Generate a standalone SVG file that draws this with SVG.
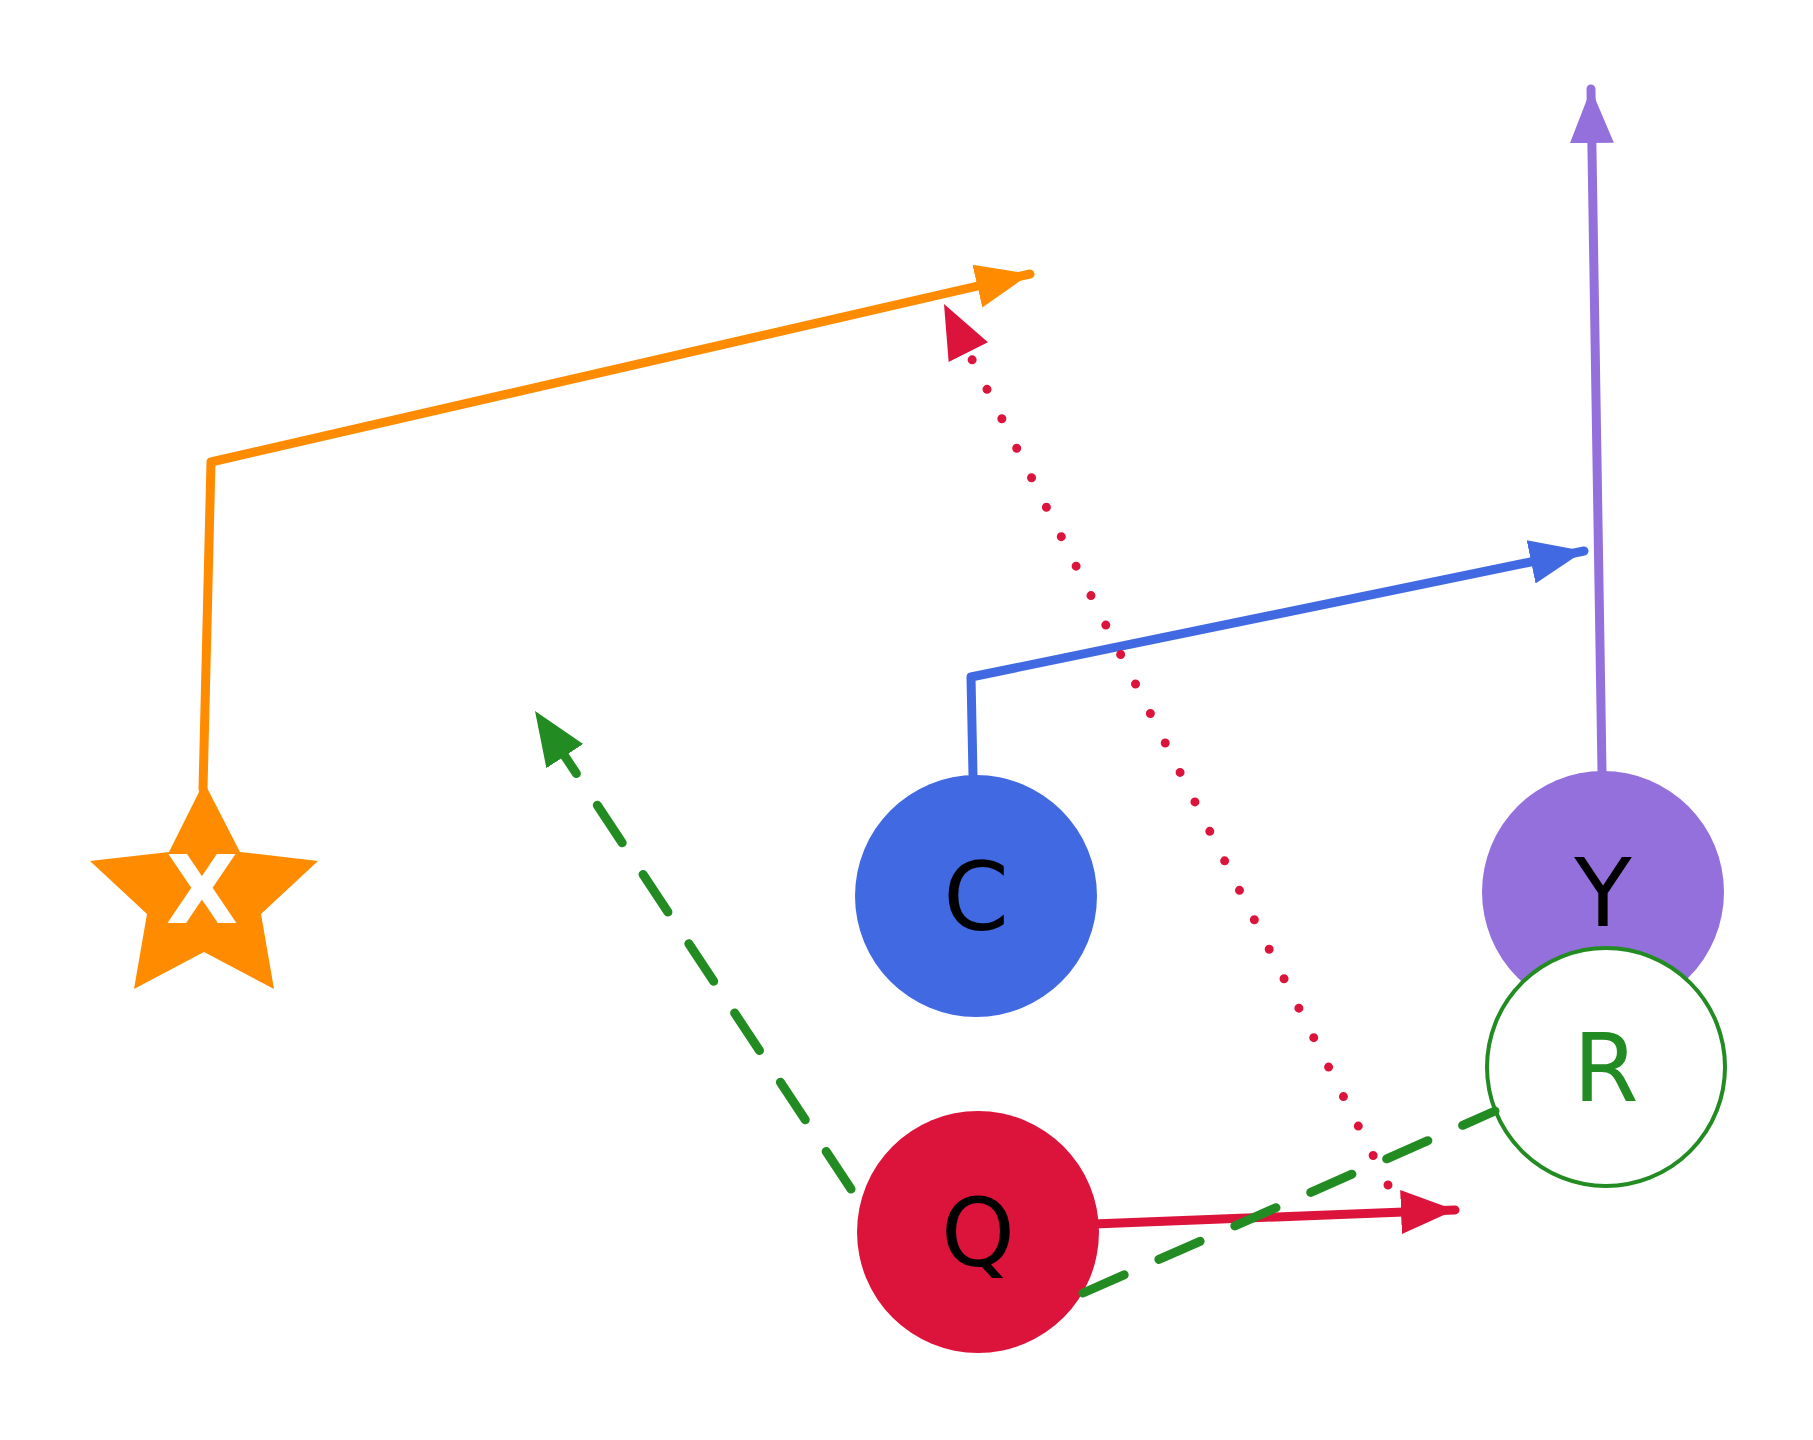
<svg xmlns="http://www.w3.org/2000/svg" width="1813" height="1440" viewBox="0 0 1813 1440">
<style>
.e{fill:none;stroke-width:9;stroke-linecap:round;stroke-linejoin:round}
.lbl{font-family:"DejaVu Sans",sans-serif;font-size:94px;text-anchor:middle;dominant-baseline:central}
</style>
<defs>
<marker id="mo" markerUnits="userSpaceOnUse" markerWidth="60" markerHeight="50" refX="54" refY="22" orient="auto" viewBox="0 0 60 44"><path d="M0,0 L54,22 L0,44 Z" fill="#FF8C00"/></marker>
<marker id="mb" markerUnits="userSpaceOnUse" markerWidth="60" markerHeight="50" refX="54" refY="22" orient="auto" viewBox="0 0 60 44"><path d="M0,0 L54,22 L0,44 Z" fill="#4169E1"/></marker>
<marker id="mp" markerUnits="userSpaceOnUse" markerWidth="60" markerHeight="50" refX="54" refY="22" orient="auto" viewBox="0 0 60 44"><path d="M0,0 L54,22 L0,44 Z" fill="#9370DB"/></marker>
<marker id="mr" markerUnits="userSpaceOnUse" markerWidth="60" markerHeight="50" refX="54" refY="22" orient="auto" viewBox="0 0 60 44"><path d="M0,0 L54,22 L0,44 Z" fill="#DC143C"/></marker>
<marker id="mg" markerUnits="userSpaceOnUse" markerWidth="60" markerHeight="50" refX="54" refY="22" orient="auto" viewBox="0 0 60 44"><path d="M0,0 L54,22 L0,44 Z" fill="#228B22"/></marker>
</defs>
<g id="nodes">
<g id="node-X"><polygon points="204,782 240,852 318,861 261,914 274,989 204,952 134,989 147,914 90,861 169,852" fill="#FF8C00"/><text class="lbl" x="202" y="890" fill="#fff" font-weight="bold">X</text></g>
<g id="node-C"><circle cx="976" cy="896" r="121" fill="#4169E1"/><text class="lbl" x="976" y="897" fill="#000">C</text></g>
<g id="node-Y"><circle cx="1603" cy="892" r="121" fill="#9370DB"/><text class="lbl" x="1603" y="893" fill="#000">Y</text></g>
<g id="node-R"><circle cx="1606" cy="1067" r="119" fill="#fff" stroke="#228B22" stroke-width="4"/><text class="lbl" x="1606" y="1068" fill="#228B22">R</text></g>
<g id="node-Q"><circle cx="978" cy="1232" r="121" fill="#DC143C"/><text class="lbl" x="978" y="1233" fill="#000">Q</text></g>
</g>
<g id="edges">
<polyline class="e" stroke="#FF8C00" points="203,789 211,462 1030,274" marker-end="url(#mo)"/>
<polyline class="e" stroke="#4169E1" points="973,775 971,677 1584,551" marker-end="url(#mb)"/>
<line class="e" stroke="#9370DB" x1="1602" y1="771" x2="1591" y2="89" marker-end="url(#mp)"/>
<line class="e" stroke="#DC143C" x1="1094" y1="1224" x2="1455" y2="1210" marker-end="url(#mr)"/>
<line class="e" stroke="#DC143C" stroke-width="12" stroke-dasharray="0 33" x1="1388" y1="1185" x2="944" y2="304" marker-end="url(#mr)"/>
<line class="e" stroke="#228B22" stroke-dasharray="45 38" x1="851" y1="1189" x2="535" y2="711" marker-end="url(#mg)"/>
<line class="e" stroke="#228B22" stroke-dasharray="45 38" x1="1083" y1="1293" x2="1495" y2="1111"/>
</g>
</svg>
